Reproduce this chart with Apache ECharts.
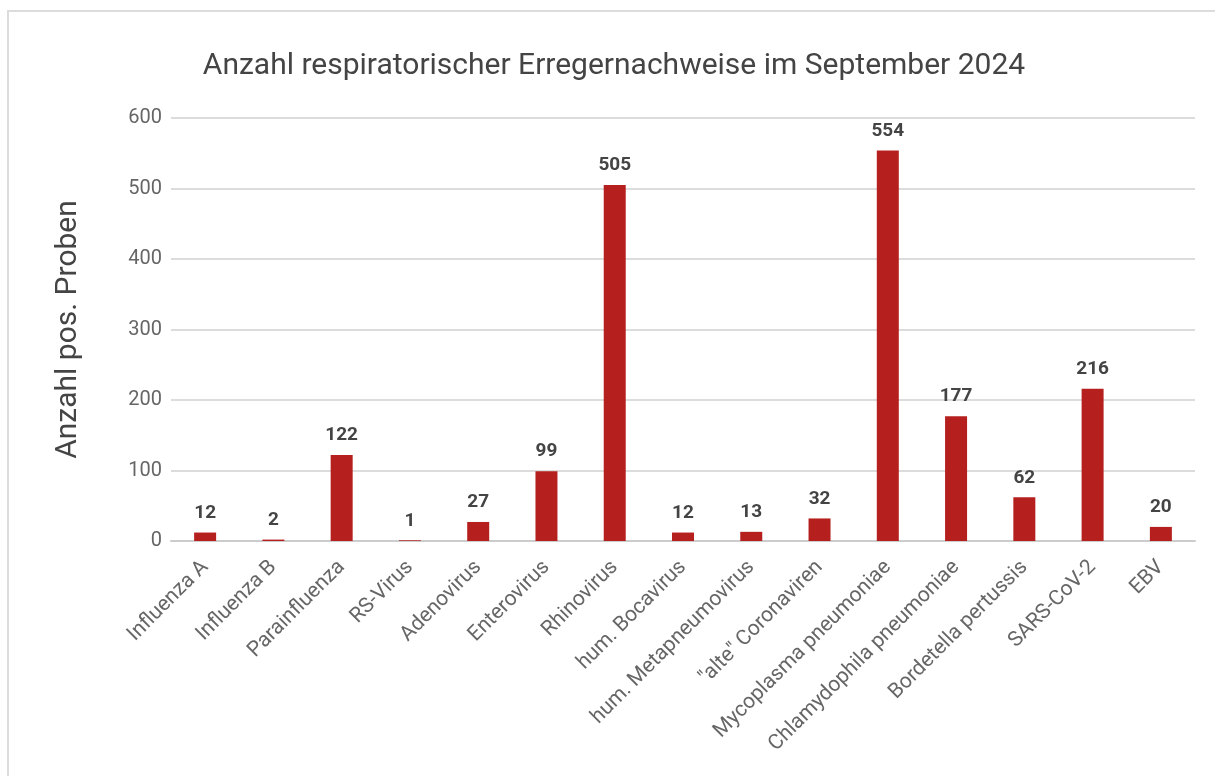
<!DOCTYPE html>
<html>
<head>
<meta charset="utf-8">
<script src="https://cdn.jsdelivr.net/npm/echarts@6/dist/echarts.min.js"></script>
<style>
  html, body { margin: 0; padding: 0; background: #fff; }
  #frame {
    position: absolute; left: 7px; top: 10px; right: -4px; bottom: -4px;
    border-top: 2px solid #dcdcdc; border-left: 2px solid #dcdcdc;
  }
  #chart { position: absolute; left: 0; top: 0; width: 1215px; height: 776px; }
</style>
</head>
<body>
<div id="frame"></div>
<div id="chart"></div>
<script>
// Erreger und Anzahl positiver Proben
const categories = [
  'Influenza A', 'Influenza B', 'Parainfluenza', 'RS-Virus', 'Adenovirus',
  'Enterovirus', 'Rhinovirus', 'hum. Bocavirus', 'hum. Metapneumovirus',
  '"alte" Coronaviren', 'Mycoplasma pneumoniae', 'Chlamydophila pneumoniae',
  'Bordetella pertussis', 'SARS-CoV-2', 'EBV'
];
const counts = [12, 2, 122, 1, 27, 99, 505, 12, 13, 32, 554, 177, 62, 216, 20];
const yTicks = [0, 100, 200, 300, 400, 500, 600];

const chart = echarts.init(document.getElementById('chart'));

const option = {
  backgroundColor: 'transparent',
  animation: false,
  title: {
    text: 'Anzahl respiratorischer Erregernachweise im September 2024',
    left: 609,
    textAlign: 'center',
    top: 46,
    textStyle: {
      color: '#444',
      fontFamily: 'Roboto',
      fontWeight: 'normal',
      fontSize: 30
    }
  },
  grid: {
    left: 171,
    right: 20,
    top: 118,
    bottom: 235
  },
  xAxis: {
    type: 'category',
    data: categories,
    axisLine: { lineStyle: { color: '#cccccc', width: 2 } },
    axisTick: { show: false },
    axisLabel: {
      rotate: 45,
      interval: 0,
      margin: 23,
      color: '#666',
      fontFamily: 'Roboto',
      fontSize: 21
    }
  },
  yAxis: {
    type: 'value',
    min: yTicks[0],
    max: yTicks[yTicks.length - 1],
    interval: 100,
    name: 'Anzahl pos. Proben',
    nameLocation: 'middle',
    nameGap: 88,
    nameRotate: 90,
    nameTextStyle: {
      color: '#444',
      fontFamily: 'Roboto',
      fontSize: 30
    },
    axisLine: { show: false },
    axisTick: { show: false },
    axisLabel: {
      color: '#666',
      fontFamily: 'Roboto',
      fontSize: 20,
      margin: 9
    },
    splitLine: { lineStyle: { color: '#dcdcdc', width: 2 } }
  },
  series: [
    {
      type: 'bar',
      data: counts,
      barWidth: 22,
      itemStyle: { color: '#b5201e' },
      label: {
        show: true,
        position: 'top',
        distance: 10,
        color: '#444',
        fontFamily: 'Roboto',
        fontWeight: 'bold',
        fontSize: 19
      }
    }
  ]
};

chart.setOption(option);
</script>
</body>
</html>
